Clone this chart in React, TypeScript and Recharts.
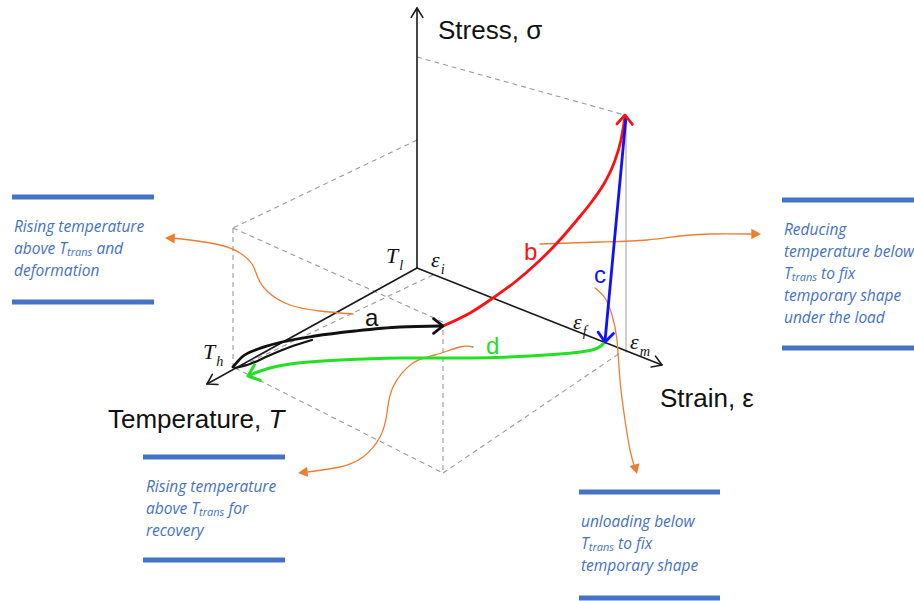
import React from "react";
import { ComposedChart, Line, Scatter, XAxis, YAxis } from "recharts";

type Pt = { x: number; y: number };
type Tip = { x: number; y: number; angle: number };

// the three axes, drawn from the origin outwards
const stressAxis: Pt[] = [{ x: 417, y: 268 }, { x: 417, y: 8 }];
const tempAxis: Pt[] = [{ x: 417, y: 268 }, { x: 207, y: 384 }];
const strainAxis: Pt[] = [{ x: 417, y: 268 }, { x: 662, y: 365 }];
const axisTips: Tip[] = [
  { x: 417, y: 8, angle: -90 },
  { x: 207, y: 384, angle: 151 },
  { x: 662, y: 365, angle: 21.6 },
];

// dashed construction box
const dashedEdges: Pt[][] = [
  [{ x: 417, y: 57 }, { x: 625, y: 115 }],
  [{ x: 417, y: 140 }, { x: 233, y: 228 }],
  [{ x: 233, y: 228 }, { x: 443, y: 322 }],
  [{ x: 233, y: 228 }, { x: 233, y: 368 }],
  [{ x: 433, y: 275 }, { x: 237, y: 368 }],
  [{ x: 235, y: 368 }, { x: 443, y: 473 }],
  [{ x: 443, y: 330 }, { x: 443, y: 473 }],
  [{ x: 443, y: 473 }, { x: 620, y: 353 }],
];
const maxStrainEdge: Pt[] = [{ x: 626, y: 115 }, { x: 626, y: 352 }];

// loading path a-b-c-d
const curveA: Pt[] = [
  { x: 233, y: 367 }, { x: 242, y: 357 }, { x: 258, y: 349 }, { x: 282, y: 342 },
  { x: 315, y: 336 }, { x: 355, y: 331 }, { x: 400, y: 327 }, { x: 441, y: 326 },
];
const curveA2: Pt[] = [
  { x: 235, y: 368 }, { x: 250, y: 364 }, { x: 268, y: 356 }, { x: 290, y: 347 }, { x: 312, y: 340 },
];
const curveB: Pt[] = [
  { x: 443, y: 326 }, { x: 470, y: 313 }, { x: 493, y: 298 }, { x: 515, y: 282 },
  { x: 537, y: 263 }, { x: 558, y: 242 }, { x: 577, y: 220 }, { x: 593, y: 200 },
  { x: 605, y: 182 }, { x: 614, y: 163 }, { x: 621, y: 140 }, { x: 625, y: 117 },
];
const curveC: Pt[] = [{ x: 626, y: 117 }, { x: 605, y: 341 }];
const curveD: Pt[] = [
  { x: 605, y: 341 }, { x: 601, y: 346 }, { x: 592, y: 350 }, { x: 572, y: 353 },
  { x: 530, y: 356 }, { x: 470, y: 358 }, { x: 400, y: 358 }, { x: 340, y: 360 },
  { x: 298, y: 363 }, { x: 270, y: 368 }, { x: 250, y: 375 },
];
const tipA: Tip[] = [{ x: 443, y: 326, angle: 0 }];
const tipB: Tip[] = [{ x: 625, y: 115, angle: -88 }];
const tipC: Tip[] = [{ x: 605, y: 342, angle: 95 }];
const tipD: Tip[] = [{ x: 248, y: 376, angle: 160 }];

// orange callout arrows
const callout1: Pt[] = [
  { x: 353, y: 314 }, { x: 320, y: 311 }, { x: 290, y: 305 }, { x: 268, y: 292 },
  { x: 258, y: 278 }, { x: 252, y: 264 }, { x: 240, y: 253 }, { x: 220, y: 245 },
  { x: 190, y: 240 }, { x: 172, y: 238 },
];
const callout2: Pt[] = [
  { x: 540, y: 244 }, { x: 600, y: 242 }, { x: 647, y: 240 }, { x: 680, y: 236 },
  { x: 710, y: 234 }, { x: 752, y: 234 },
];
const callout3: Pt[] = [
  { x: 595, y: 288 }, { x: 605, y: 298 }, { x: 612, y: 315 }, { x: 617, y: 340 },
  { x: 620, y: 380 }, { x: 625, y: 420 }, { x: 630, y: 450 }, { x: 634, y: 465 },
];
const callout4: Pt[] = [
  { x: 473, y: 347 }, { x: 460, y: 347 }, { x: 435, y: 355 }, { x: 413, y: 363 },
  { x: 393, y: 387 }, { x: 387, y: 413 }, { x: 380, y: 437 }, { x: 363, y: 457 },
  { x: 340, y: 467 }, { x: 308, y: 472 },
];
const calloutTips: Tip[] = [
  { x: 165, y: 238, angle: 182 },
  { x: 761, y: 234, angle: 0 },
  { x: 637, y: 474, angle: 75 },
  { x: 298, y: 473, angle: 174 },
];

// blue rules above and below each note
const noteRules: Pt[][] = [
  [{ x: 12, y: 197 }, { x: 154, y: 197 }],
  [{ x: 12, y: 302 }, { x: 154, y: 302 }],
  [{ x: 782, y: 200 }, { x: 914, y: 200 }],
  [{ x: 782, y: 348 }, { x: 914, y: 348 }],
  [{ x: 143, y: 457 }, { x: 285, y: 457 }],
  [{ x: 143, y: 560 }, { x: 285, y: 560 }],
  [{ x: 579, y: 492 }, { x: 720, y: 492 }],
  [{ x: 579, y: 598 }, { x: 720, y: 598 }],
];

// note texts; "{T}" marks T with the "trans" subscript
const notes = [
  { x: 14, y: 227, lines: ["Rising temperature", "above {T} and", "deformation"] },
  { x: 784, y: 230, lines: ["Reducing", "temperature below", "{T} to fix", "temporary shape", "under the load"] },
  { x: 146, y: 487, lines: ["Rising temperature", "above {T} for", "recovery"] },
  { x: 581, y: 522, lines: ["unloading below", "{T} to fix", "temporary shape"] },
];

const deg = Math.PI / 180;

const chevron = (len: number, spread: number, color: string, width: number) => (props: any) => {
  const { cx, cy, payload } = props;
  const a = payload.angle * deg;
  const s = spread * deg;
  const x1 = cx - len * Math.cos(a - s);
  const y1 = cy - len * Math.sin(a - s);
  const x2 = cx - len * Math.cos(a + s);
  const y2 = cy - len * Math.sin(a + s);
  return (
    <path
      d={`M${x1},${y1}L${cx},${cy}L${x2},${y2}`}
      fill="none"
      stroke={color}
      strokeWidth={width}
      strokeLinecap="round"
      strokeLinejoin="round"
    />
  );
};

const triangle = (len: number, spread: number, color: string) => (props: any) => {
  const { cx, cy, payload } = props;
  const a = payload.angle * deg;
  const s = spread * deg;
  const x1 = cx - len * Math.cos(a - s);
  const y1 = cy - len * Math.sin(a - s);
  const x2 = cx - len * Math.cos(a + s);
  const y2 = cy - len * Math.sin(a + s);
  return <path d={`M${cx},${cy}L${x1},${y1}L${x2},${y2}Z`} fill={color} stroke="none" />;
};

const SANS = '"Liberation Sans", Arial, sans-serif';
const SERIF = '"Liberation Serif", "Times New Roman", serif';
const NOTE = '"Open Sans", Lato, sans-serif';
const ORANGE = "#ED7D31";
const NOTE_BLUE = "#4472C4";

const seg = (data: Pt[], color: string, width: number, key: string, extra: any = {}) => (
  <Line
    key={key}
    data={data}
    dataKey="y"
    type="natural"
    stroke={color}
    strokeWidth={width}
    dot={false}
    activeDot={false}
    isAnimationActive={false}
    strokeLinecap="round"
    {...extra}
  />
);

const Label = ({ x, y, size, color, font, italic, children }: any) => (
  <div
    style={{
      position: "absolute",
      left: x,
      top: y - size / 2,
      fontSize: size,
      lineHeight: 1,
      color,
      fontFamily: font,
      fontStyle: italic ? "italic" : "normal",
      whiteSpace: "nowrap",
    }}
  >
    {children}
  </div>
);

const MathLabel = ({ x, y, base, sub, size = 22 }: any) => (
  <div
    style={{
      position: "absolute",
      left: x,
      top: y - size / 2,
      fontSize: size,
      lineHeight: 1,
      fontFamily: SERIF,
      fontStyle: "italic",
      color: "#111",
      whiteSpace: "nowrap",
    }}
  >
    {base}
    <span style={{ fontSize: size * 0.65, position: "relative", top: size * 0.3, marginLeft: 1 }}>{sub}</span>
  </div>
);

const NoteLine = ({ text }: { text: string }) => {
  const parts = text.split("{T}");
  if (parts.length === 1) return <>{text}</>;
  return (
    <>
      {parts[0]}T<span style={{ fontSize: 11, position: "relative", top: 2 }}>trans</span>
      {parts[1]}
    </>
  );
};

export default function App() {
  return (
    <div style={{ position: "absolute", left: 0, top: 0, width: 914, height: 601, background: "#fff", overflow: "hidden" }}>
      <ComposedChart width={914} height={601} margin={{ top: 0, right: 0, bottom: 0, left: 0 }}>
        <XAxis type="number" dataKey="x" domain={[0, 914]} allowDataOverflow hide />
        <YAxis type="number" dataKey="y" domain={[0, 601]} allowDataOverflow reversed hide />

        {dashedEdges.map((d, i) =>
          seg(d, "#9a9a9a", 1.1, `dash${i}`, { type: "linear", strokeDasharray: "5 4", strokeLinecap: "butt" })
        )}
        {seg(maxStrainEdge, "#b4b4b4", 1.3, "maxedge", { type: "linear" })}

        {seg(stressAxis, "#1a1a1a", 1.6, "sAxis", { type: "linear" })}
        {seg(tempAxis, "#1a1a1a", 1.6, "tAxis", { type: "linear" })}
        {seg(strainAxis, "#1a1a1a", 1.6, "eAxis", { type: "linear" })}
        <Scatter data={axisTips} isAnimationActive={false} shape={chevron(11, 32, "#1a1a1a", 1.6)} />

        {noteRules.map((d, i) => seg(d, NOTE_BLUE, 5, `rule${i}`, { type: "linear", strokeLinecap: "butt" }))}

        {seg(callout1, ORANGE, 1.3, "o1")}
        {seg(callout2, ORANGE, 1.3, "o2")}
        {seg(callout3, ORANGE, 1.3, "o3")}
        {seg(callout4, ORANGE, 1.3, "o4")}
        <Scatter data={calloutTips} isAnimationActive={false} shape={triangle(11, 28, ORANGE)} />

        {seg(curveD, "#22e022", 3, "d")}
        <Scatter data={tipD} isAnimationActive={false} shape={chevron(13, 40, "#22e022", 3)} />
        {seg(curveA2, "#111", 2.2, "a2", { type: "monotone" })}
        {seg(curveA, "#111", 2.8, "a", { type: "monotone" })}
        <Scatter data={tipA} isAnimationActive={false} shape={chevron(12, 38, "#111", 2.8)} />
        {seg(curveB, "#ff1010", 2.8, "b", { type: "monotone" })}
        <Scatter data={tipB} isAnimationActive={false} shape={chevron(12, 40, "#ff1010", 2.8)} />
        {seg(curveC, "#1010ff", 2.8, "c", { type: "linear" })}
        <Scatter data={tipC} isAnimationActive={false} shape={chevron(12, 40, "#1010ff", 2.8)} />
      </ComposedChart>

      <Label x={438} y={30} size={26} color="#111" font={SANS}>Stress, σ</Label>
      <Label x={108} y={419} size={26} color="#111" font={SANS}>
        Temperature, <i>T</i>
      </Label>
      <Label x={660} y={398} size={26} color="#111" font={SANS}>Strain, ε</Label>

      <Label x={365} y={318} size={24} color="#111" font={SANS}>a</Label>
      <Label x={524} y={252} size={24} color="#ff1010" font={SANS}>b</Label>
      <Label x={594} y={275} size={24} color="#1010ff" font={SANS}>c</Label>
      <Label x={486} y={346} size={24} color="#22e022" font={SANS}>d</Label>

      <MathLabel x={386} y={256} base="T" sub="l" />
      <MathLabel x={431} y={260} base="ε" sub="i" />
      <MathLabel x={573} y={322} base="ε" sub="f" />
      <MathLabel x={630} y={342} base="ε" sub="m" />
      <MathLabel x={203} y={352} base="T" sub="h" />

      {notes.map((n, i) => (
        <div key={i}>
          {n.lines.map((ln, j) => (
            <Label key={j} x={n.x} y={n.y + j * 22} size={15.5} color={NOTE_BLUE} font={NOTE} italic>
              <NoteLine text={ln} />
            </Label>
          ))}
        </div>
      ))}
    </div>
  );
}
